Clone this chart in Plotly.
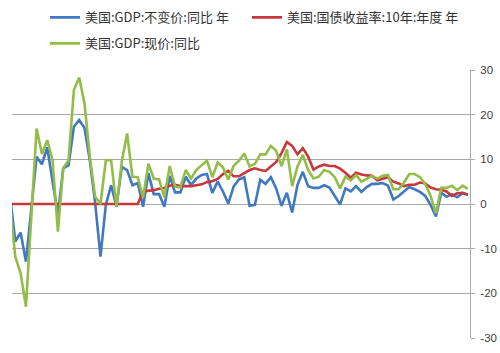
import plotly.graph_objects as go

years = list(range(1929, 2016))

gdp_real = [2.0, -8.4, -6.4, -12.9, -1.2, 10.6, 8.9, 12.7, 5.0, -2.5,
            8.0, 8.7, 17.3, 18.8, 17.0, 9.8, 0.2, -11.8, -0.2, 4.2,
            -0.6, 8.3, 7.6, 4.2, 4.7, -0.6, 6.9, 2.2, 2.2, -0.6,
            6.3, 2.6, 2.6, 6.1, 4.3, 5.7, 6.5, 6.7, 2.5, 5.0,
            2.8, 0.1, 3.9, 5.5, 6.0, -0.4, -0.2, 5.4, 4.5, 6.0,
            3.5, -0.4, 2.5, -1.9, 4.3, 7.2, 4.0, 3.6, 3.6, 4.2,
            3.7, 1.9, -0.1, 3.5, 2.8, 4.0, 2.7, 3.8, 4.5, 4.5,
            4.7, 4.1, 1.0, 1.8, 2.8, 3.8, 3.3, 2.7, 1.8, -0.2,
            -2.8, 2.5, 1.6, 2.2, 1.5, 2.4, 2.0]

gdp_nominal = [0.0, -11.8, -15.5, -23.0, -3.0, 16.9, 11.2, 14.3, 9.8, -6.2,
               8.0, 9.8, 25.5, 28.3, 22.5, 10.6, 1.6, 0.0, 9.8, 9.8,
               -0.6, 9.5, 15.8, 6.1, 6.0, 1.5, 9.0, 5.7, 5.5, 1.5,
               8.5, 3.9, 3.7, 7.6, 5.7, 7.6, 8.7, 9.7, 6.0, 9.3,
               8.2, 5.5, 8.5, 9.7, 11.3, 8.4, 9.0, 11.1, 11.1, 13.0,
               11.9, 8.5, 12.2, 4.0, 8.4, 11.0, 7.6, 5.7, 6.1, 7.6,
               7.2, 6.0, 3.5, 6.1, 5.3, 6.5, 5.0, 5.7, 6.3, 5.7,
               6.3, 6.5, 3.3, 3.3, 4.8, 6.7, 6.7, 6.0, 4.5, 1.8,
               -2.1, 3.6, 3.6, 4.1, 3.1, 4.1, 3.4]

yield_10y = [0.0] * 25 + [
    2.8, 2.9, 3.1, 3.4, 3.6, 4.1, 4.3, 4.0, 4.0, 4.0,
    4.2, 4.4, 4.9, 5.1, 5.6, 6.7, 7.4, 6.2, 6.2, 6.9,
    7.6, 8.0, 7.6, 7.4, 8.4, 9.4, 11.4, 13.9, 13.0, 11.1,
    12.5, 10.6, 7.7, 8.4, 8.8, 8.5, 8.5, 7.9, 7.0, 5.9,
    7.0, 6.6, 6.4, 6.3, 5.3, 5.6, 6.0, 5.0, 4.6, 4.0,
    4.3, 4.3, 4.8, 4.6, 3.7, 3.3, 3.2, 2.8, 1.8, 2.4,
    2.5, 2.1]

names = ["美国:GDP:不变价:同比 年", "美国:国债收益率:10年:年度 年", "美国:GDP:现价:同比"]
colors = ["#4178C0", "#C8373A", "#93BD48"]
tick_vals = [-30, -20, -10, 0, 10, 20, 30]

fig = go.Figure()
fig.add_trace(go.Scatter(x=years, y=gdp_real, mode="lines", name=names[0],
                         line=dict(color=colors[0], width=2.6), legend="legend"))
fig.add_trace(go.Scatter(x=years, y=yield_10y, mode="lines", name=names[1],
                         line=dict(color=colors[1], width=2.6), legend="legend2"))
fig.add_trace(go.Scatter(x=years, y=gdp_nominal, mode="lines", name=names[2],
                         line=dict(color=colors[2], width=2.6), legend="legend3"))

font_cjk = "Noto Sans CJK SC, Noto Sans, sans-serif"
leg_common = dict(orientation="h", xanchor="left", yanchor="top",
                  xref="container", yref="container",
                  font=dict(family=font_cjk, size=13, color="#333333"),
                  bgcolor="rgba(0,0,0,0)", borderwidth=0, itemwidth=30)

fig.update_layout(
    width=500, height=353,
    margin=dict(l=12, r=30, t=70, b=15, autoexpand=False),
    paper_bgcolor="white", plot_bgcolor="white",
    font=dict(family=font_cjk, size=11, color="#404040"),
    xaxis=dict(range=[1929.38, 2015.4], visible=False, showgrid=False, zeroline=False),
    yaxis=dict(side="right", range=[-30, 30], tickvals=tick_vals,
               ticktext=[str(v) for v in tick_vals], automargin=False,
               showgrid=True, gridcolor="#A8A8A8", gridwidth=1,
               zeroline=False, showline=True, linecolor="#A8A8A8", linewidth=1,
               ticks="outside", ticklen=4, tickcolor="#A8A8A8",
               ticklabelstandoff=3,
               tickfont=dict(family="Liberation Sans, Arial, sans-serif", size=11.5, color="#404040")),
    legend=dict(x=0.09, y=0.993, **leg_common),
    legend2=dict(x=0.494, y=0.993, **leg_common),
    legend3=dict(x=0.09, y=0.9195, **leg_common),
    showlegend=True,
)

fig.write_html("out.html")
